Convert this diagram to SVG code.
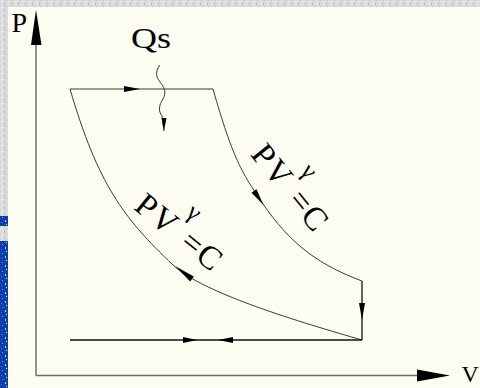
<svg xmlns="http://www.w3.org/2000/svg" width="480" height="388" viewBox="0 0 480 388">
<defs>
<pattern id="grayTex" width="7" height="6" patternUnits="userSpaceOnUse">
<rect width="7" height="6" fill="#dadada"/>
<rect x="1" y="1" width="2" height="1" fill="#f0f0f0"/>
<rect x="4" y="3" width="1" height="2" fill="#b8b8b8"/>
<rect x="2" y="4" width="1" height="1" fill="#f6f6f6"/>
<rect x="5" y="0" width="1" height="1" fill="#c6c6c6"/>
<rect x="0" y="3" width="1" height="1" fill="#e8e8e8"/>
</pattern>
<pattern id="blueTex" width="8" height="9" patternUnits="userSpaceOnUse">
<rect width="8" height="9" fill="#0c3eae"/>
<rect x="2" y="1" width="1" height="1" fill="#6f9ae8"/>
<rect x="5" y="4" width="1" height="2" fill="#c9d8f6"/>
<rect x="1" y="6" width="1" height="1" fill="#3c6ed0"/>
<rect x="6" y="8" width="1" height="1" fill="#ffffff"/>
</pattern>
<style>
.axis{stroke:#6e6e6e;stroke-width:1.5;fill:none}
.curve{stroke:#3a3a3a;stroke-width:1;fill:none}
.stroke-top{stroke:#7a7a7a;stroke-width:1.5;fill:none}
.stroke-bot{stroke:#111;stroke-width:1.3;fill:none}
.head{fill:#000}
.lbl{font-family:"Liberation Serif","Times New Roman",serif;fill:#000}
.big{font-size:33px}
.sup{font-size:25px}
</style>
</defs>

<g id="background">
<rect width="480" height="388" fill="#fdfcf0"/>
<rect x="0" y="0" width="480" height="7" fill="url(#grayTex)"/>
<rect x="0" y="0" width="8" height="216" fill="url(#grayTex)"/>
<rect x="0" y="216" width="8" height="10" fill="url(#blueTex)"/>
<rect x="0" y="226" width="8" height="15" fill="url(#grayTex)"/>
<rect x="0" y="241" width="8" height="147" fill="url(#blueTex)"/>
</g>

<g id="axes">
<line class="axis" x1="36" y1="44" x2="36" y2="375.5"/>
<line class="axis" x1="36" y1="375.5" x2="418" y2="375.5"/>
<polygon class="head" points="36,10 31,45 41.5,45"/>
<polygon class="head" points="450,375.5 417,369.5 417,381.5"/>
</g>

<g id="connectors">
<line class="stroke-top" x1="70" y1="89" x2="213" y2="89"/>
<polygon class="head" points="140,89 124,86 124,92"/>
<path class="curve" d="M213,89 C233,159 241.7,172.2 261.7,202 C291.7,246.7 322,266 362,281"/>
<polygon class="head" points="263.5,205 256.5,189.3 251.5,192.7"/>
<line class="stroke-bot" x1="362" y1="281" x2="362" y2="340"/>
<polygon class="head" points="362,320 359,303 365,303"/>
<path class="curve" d="M70,89 C98,184.2 123,217.5 173,265 C203,293.5 302,322.6 362,340"/>
<polygon class="head" points="175,266 193.8,276.6 190.2,281.4"/>
<line class="stroke-bot" x1="70" y1="340" x2="362" y2="340"/>
<polygon class="head" points="197,340 183,337 183,343"/>
<polygon class="head" points="218,340 233,337 233,343"/>
<path class="curve" d="M160,65 C156,70 155,76 160,82 C164,87 167,92 163,99 C159,105 158,111 162,116 L164,131"/>
<polygon class="head" points="164,131 161.5,118 166.5,118"/>
</g>

<g id="label-P"><text class="lbl" x="11.5" y="32" font-size="28">P</text></g>
<g id="label-V"><text class="lbl" x="461.5" y="382" font-size="24">V</text></g>
<g id="label-Qs"><text class="lbl" x="131" y="48" font-size="30" textLength="40" lengthAdjust="spacingAndGlyphs">Qs</text></g>

<g id="label-expansion" transform="translate(264,155) rotate(51)">
<text class="lbl big" text-anchor="middle"><tspan x="0" y="11">P</tspan><tspan x="23" y="11">V</tspan><tspan class="sup" x="41" y="-17">γ</tspan><tspan x="59" y="11">=</tspan><tspan x="81" y="11">C</tspan></text>
</g>

<g id="label-compression" transform="translate(146.7,205.8) rotate(39)">
<text class="lbl big" text-anchor="middle"><tspan x="0" y="11">P</tspan><tspan x="23" y="11">V</tspan><tspan class="sup" x="41" y="-17">γ</tspan><tspan x="59" y="11">=</tspan><tspan x="81" y="11">C</tspan></text>
</g>
</svg>
